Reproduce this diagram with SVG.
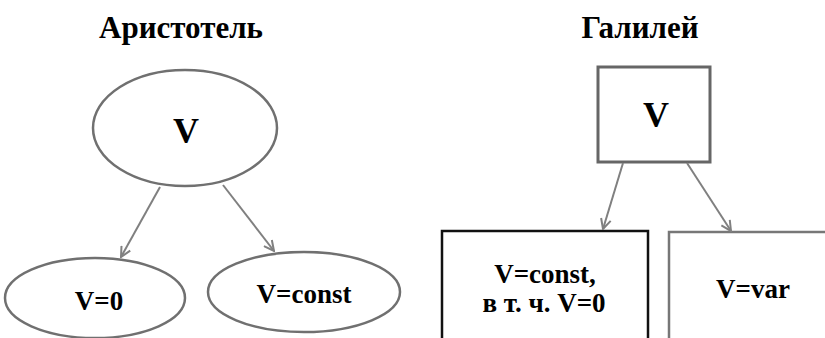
<svg xmlns="http://www.w3.org/2000/svg" width="825" height="338" viewBox="0 0 825 338">
<defs>
<marker id="arr" viewBox="0 0 12 12" refX="11" refY="6" markerWidth="12" markerHeight="12" markerUnits="userSpaceOnUse" orient="auto">
<path d="M1,1 L11,6 L1,11" fill="none" stroke="#808080" stroke-width="2"/>
</marker>
</defs>
<style>
text{font-family:'Liberation Serif','DejaVu Serif',serif;font-weight:bold;fill:#000;text-anchor:middle}
.title{font-size:31px}
.big{font-size:36px}
.lbl{font-size:27px}
.ell{fill:#fff;stroke:#707070;stroke-width:2.5}
.conn line{stroke:#808080;stroke-width:2;marker-end:url(#arr)}
</style>
<rect width="825" height="338" fill="#fff"/>
<text class="title" x="181" y="38">Аристотель</text>
<text class="title" x="640" y="38">Галилей</text>
<g id="a-v"><ellipse class="ell" cx="185" cy="128" rx="92" ry="58"/><text class="big" x="186" y="143">V</text></g>
<g id="a-v0"><ellipse class="ell" cx="95" cy="298" rx="90" ry="40"/><text class="lbl" x="99" y="310">V=0</text></g>
<g id="a-vconst"><ellipse class="ell" cx="304" cy="292" rx="96" ry="40"/><text class="lbl" x="304" y="303">V=const</text></g>
<g id="g-v"><rect x="598" y="67" width="112" height="95" fill="#fff" stroke="#666" stroke-width="3"/><text class="big" x="656" y="127">V</text></g>
<g id="g-vconst"><rect x="442" y="231" width="206" height="120" fill="#fff" stroke="#111" stroke-width="2.5"/><text class="lbl" x="545" y="283">V=const,</text><text class="lbl" x="544" y="312">в т. ч. V=0</text></g>
<g id="g-vvar"><rect x="669" y="232" width="170" height="120" fill="#fff" stroke="#777" stroke-width="2.5"/><text class="lbl" x="753" y="298">V=var</text></g>
<g class="conn" id="connectors">
<line x1="160" y1="187" x2="121" y2="257"/>
<line x1="223" y1="185" x2="274" y2="251"/>
<line x1="623" y1="163" x2="603" y2="229"/>
<line x1="687" y1="163" x2="731" y2="231"/>
</g>
</svg>
